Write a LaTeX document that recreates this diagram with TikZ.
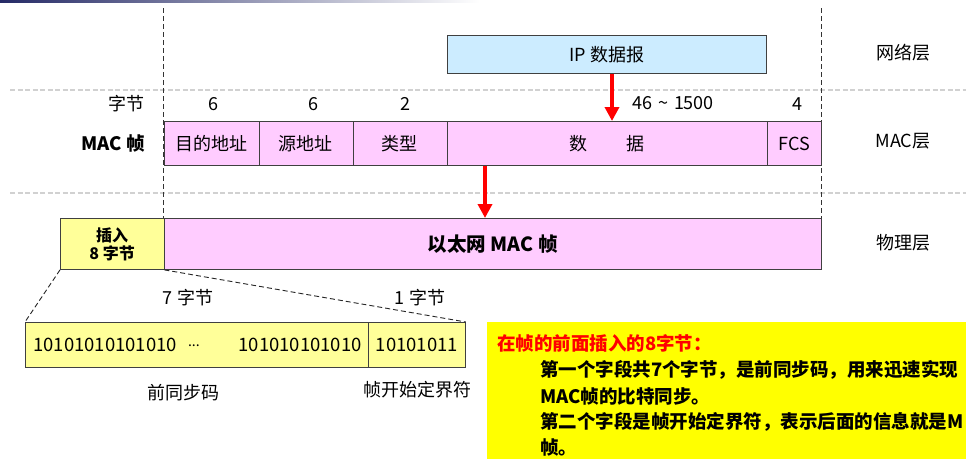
\documentclass[tikz,border=0pt]{standalone}
\usepackage{fontspec}
\setmainfont{Noto Sans CJK SC}
\usetikzlibrary{arrows.meta,calc}
\definecolor{macpink}{HTML}{FFCCFF}
\definecolor{ipblue}{HTML}{CCECFF}
\definecolor{preyellow}{HTML}{FFFF99}
\definecolor{noteyellow}{HTML}{FFFF00}
\definecolor{navy}{HTML}{252A66}
\definecolor{edge}{HTML}{404040}
\tikzset{
  txt/.style={font=\fontsize{18}{21}\selectfont, inner sep=0pt},
  btxt/.style={font=\fontsize{18.5}{21}\selectfont\bfseries, inner sep=0pt},
  field/.style={draw=edge, line width=0.9pt, fill=macpink, anchor=north west, minimum height=44, inner sep=0pt, font=\fontsize{18}{21}\selectfont},
  prebox/.style={draw=edge, line width=0.9pt, fill=preyellow, anchor=north west, minimum height=45, inner sep=0pt, font=\fontsize{18.5}{21}\selectfont},
  layerdash/.style={draw=black!18, line width=1.6pt, dash pattern=on 5pt off 2.5pt},
  vdash/.style={draw=black!80, line width=0.9pt, dash pattern=on 5pt off 3pt},
  zoomdash/.style={draw=black!85, line width=0.9pt, dash pattern=on 5pt off 3pt},
  redarrow/.style={draw=red, line width=4.5pt, -{Triangle[width=14pt,length=14pt]}},
  notetxt/.style={font=\fontsize{18.5}{21}\selectfont\bfseries, inner sep=0pt, anchor=west},
}
\begin{document}
\begin{tikzpicture}[x=1pt,y=-1pt]
\useasboundingbox (0,0) rectangle (966,458);
\clip (0,0) rectangle (966,458);
\fill[white] (0,0) rectangle (966,458);
\shade[left color=navy, right color=white] (0,0) rectangle (480,2.5);
% layer separators
\draw[layerdash] (10,90) -- (966,90);
\draw[layerdash] (10,193) -- (966,193);
% vertical guides
\draw[vdash] (163.5,8) -- (163.5,218);
\draw[vdash] (821,8) -- (821,218);
% IP datagram
\node[draw=edge, line width=0.9pt, fill=ipblue, anchor=north west, minimum width=319, minimum height=38, inner sep=0pt, font=\fontsize{18}{21}\selectfont] (ip) at (447,35) {IP 数据报};
% byte labels
\node[txt] (zj) at (126,104) {字节};
\node[txt] (b1) at (213,104) {6};
\node[txt] (b2) at (313,104) {6};
\node[txt] (b3) at (405,104) {2};
\node[txt] (b4) at (673,103) {46\,\,\textasciitilde\,\,1500};
\node[txt] (b5) at (797,104) {4};
% MAC frame
\node[btxt] (macf) at (113,143) {MAC 帧};
\node[field, minimum width=95] (dst) at (163.5,121) {目的地址};
\node[field, minimum width=94] (src) at (258.5,121) {源地址};
\node[field, minimum width=94] (typ) at (352.5,121) {类型};
\node[field, minimum width=320.5] (data) at (446.5,121) {数\hspace{2.2em}据};
\node[field, minimum width=54] (fcs) at (767,121) {FCS};
% layer names
\node[txt] (l3) at (903,53) {网络层};
\node[txt] (l2) at (903,141) {MAC层};
\node[txt] (l1) at (903,243) {物理层};
% physical layer
\node[draw=edge, line width=0.9pt, fill=preyellow, anchor=north west, minimum width=103.5, minimum height=51, inner sep=0pt, align=center, font=\fontsize{16}{18}\selectfont\bfseries] (ins) at (60,218) {插入\\8 字节};
\node[draw=edge, line width=0.9pt, fill=macpink, anchor=north west, minimum width=657.5, minimum height=51, inner sep=0pt, font=\fontsize{19.5}{21}\selectfont\bfseries] (eth) at (163.5,218) {以太网 MAC 帧};
% red arrows
\coordinate (a1) at ($(ip.south west)+(165,0)$);
\coordinate (a2) at ($(data.south west)+(38.5,0)$);
\draw[redarrow] (a1) -- (a1 |- data.north);
\draw[redarrow] (a2) -- (a2 |- eth.north);
% preamble detail
\node[prebox, minimum width=343] (pre) at (25,322) {};
\node[prebox, minimum width=97] (sfd) at (368,322) {10101011};
\node[txt, anchor=west, font=\fontsize{18.5}{21}\selectfont] (pa) at ([xshift=8]pre.west) {10101010101010\hspace{0.6em}\raisebox{0.3em}{\fontsize{14}{14}\selectfont ...}};
\node[txt, anchor=east, font=\fontsize{18.5}{21}\selectfont] (pb) at ([xshift=-7]pre.east) {101010101010};
\draw[zoomdash] (ins.south west) -- (pre.north west);
\draw[zoomdash] (ins.south east) -- (sfd.north east);
\node[txt] (n7) at (188,298) {7 字节};
\node[txt] (n1) at (420,298) {1 字节};
\node[txt] (qt) at (183,393) {前同步码};
\node[txt] (sd) at (417,390) {帧开始定界符};
% note
\node[fill=noteyellow, anchor=north west, minimum width=500, minimum height=140, inner sep=0pt] (note) at (487,322) {};
\node[notetxt, text=red] (t0) at (497,343) {在帧的前面插入的8字节：};
\node[notetxt] (t1) at (540,370) {第一个字段共7个字节，是前同步码，用来迅速实现};
\node[notetxt] (t2) at (540,396) {MAC帧的比特同步。};
\node[notetxt] (t3) at (540,422) {第二个字段是帧开始定界符，表示后面的信息就是M};
\node[notetxt] (t4) at (540,447) {帧。};
\end{tikzpicture}
\end{document}
